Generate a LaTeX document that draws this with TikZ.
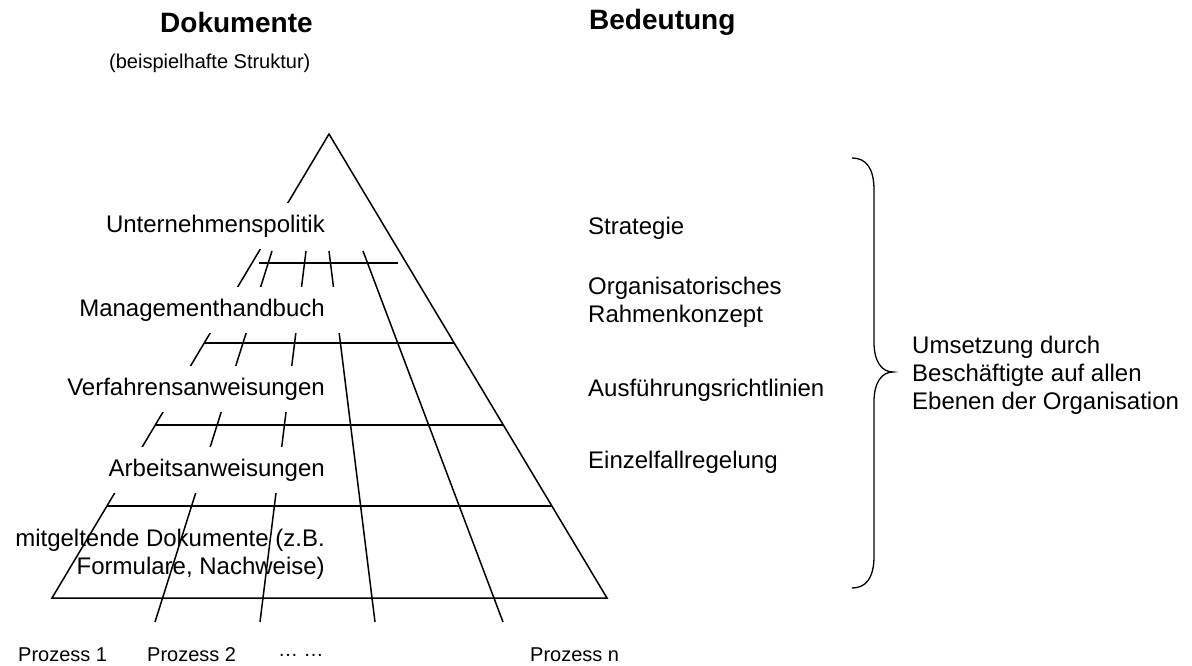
\documentclass[tikz,border=0pt]{standalone}
\usepackage{fontspec}
\setmainfont{Liberation Sans}
\usetikzlibrary{calc}

\begin{document}
\begin{tikzpicture}[x=1pt,y=-1pt]
  \tikzstyle{edge}=[line width=1.5pt]
  \tikzstyle{level}=[fill=white, anchor=east, align=right, minimum height=46pt, inner xsep=16pt, inner ysep=0pt, font=\fontsize{24}{28}\selectfont]
  \tikzstyle{meaning}=[anchor=west, align=left, inner sep=0pt, font=\fontsize{24}{28}\selectfont]
  \tikzstyle{head}=[anchor=west, inner sep=0pt, font=\bfseries\fontsize{28}{32}\selectfont]
  \tikzstyle{proc}=[anchor=west, inner sep=0pt, font=\fontsize{20}{24}\selectfont]

  \useasboundingbox (0,0) rectangle (1192,665);

  % Pyramide
  \coordinate (apex) at (329,134);
  \coordinate (bl) at (52,598);
  \coordinate (br) at (607,598);
  \draw[edge] (bl) -- (apex) -- (br) -- cycle;

  % Ebenen
  \draw[edge] (259,263) -- (398,263);
  \foreach \t in {0.4504,0.627,0.8017}
    \draw[edge] ($(apex)!\t!(bl)$) -- ($(apex)!\t!(br)$);

  % Prozesse
  \foreach \a/\b in {272/155, 306/260, 329/375, 363/503}
    \draw[edge] (\a,251) -- (\b,622);

  % Dokumente
  \node[level] (politik) at (341,226) {Unternehmenspolitik};
  \node[level] (handbuch) at (341,310) {Managementhandbuch};
  \node[level] (verfahren) at (341,389) {Verfahrensanweisungen};
  \node[level] (arbeit) at (341,470) {Arbeitsanweisungen};
  \node[level, fill=none] (mitgelt) at (341,554) {mitgeltende Dokumente (z.B.\\Formulare, Nachweise)};

  % Bedeutung
  \node[meaning] (strategie) at (588,228) {Strategie};
  \node[meaning] (rahmen) at (588,302) {Organisatorisches\\Rahmenkonzept};
  \node[meaning] (richtl) at (588,390) {Ausführungsrichtlinien};
  \node[meaning] (einzel) at (588,462) {Einzelfallregelung};

  % Klammer
  \draw[line width=1.3pt] (852,158) .. controls (866,158) and (874,168) .. (874,190)
    -- (874,342) .. controls (874,362) and (882,372) .. (893,372)
    .. controls (882,372) and (874,382) .. (874,402)
    -- (874,556) .. controls (874,578) and (866,588) .. (852,588);
  \node[meaning] (umsetzung) at (912,375) {Umsetzung durch\\Beschäftigte auf allen\\Ebenen der Organisation};

  % Kopfzeilen
  \node[head] (dok) at (160,22) {Dokumente};
  \node[proc] (bsp) at (109,63) {(beispielhafte Struktur)};
  \node[head] (bed) at (589,22) {Bedeutung};

  % Prozesse unten
  \node[proc] (pr1) at (18,655) {Prozess 1};
  \node[proc] (pr2) at (147,655) {Prozess 2};
  \node[proc] (prdots) at (278,655) {… …};
  \node[proc] (prn) at (530,655) {Prozess n};
\end{tikzpicture}
\end{document}
